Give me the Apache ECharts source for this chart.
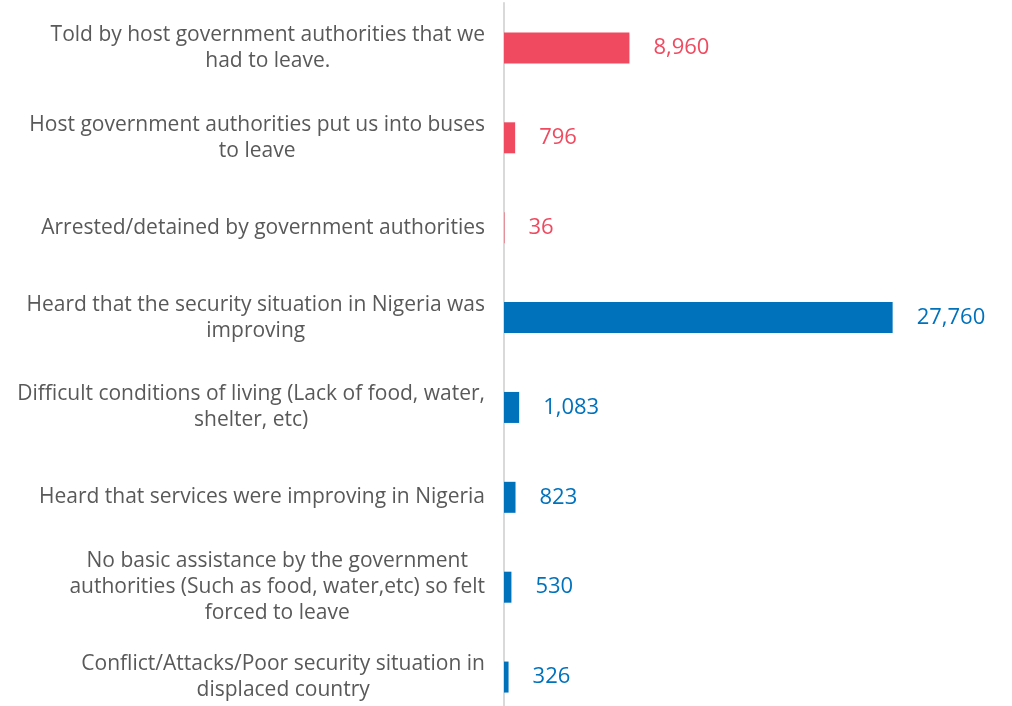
<!DOCTYPE html>
<html>
<head>
<meta charset="utf-8">
<script src="https://cdn.jsdelivr.net/npm/echarts@6/dist/echarts.min.js"></script>
<style>
html,body{margin:0;padding:0;background:#fff;}
#chart{width:1012px;height:706px;}
</style>
</head>
<body>
<div id="chart"></div>
<script>
const categories = [
  "Told by host government authorities that we\nhad to leave.",
  "Host government authorities put us into buses\nto leave",
  "Arrested/detained by government authorities",
  "Heard that the security situation in Nigeria was\nimproving",
  "Difficult conditions of living (Lack of food, water,\nshelter, etc)",
  "Heard that services were improving in Nigeria",
  "No basic assistance by the government\nauthorities (Such as food, water,etc) so felt\nforced to leave",
  "Conflict/Attacks/Poor security situation in\ndisplaced country"
];
const values = [8960, 796, 36, 27760, 1083, 823, 530, 326];
const groups = ["red", "red", "red", "blue", "blue", "blue", "blue", "blue"];

const colorMap = { red: "#EF4A60", blue: "#0072BC" };

const chart = echarts.init(document.getElementById('chart'));
chart.setOption({
  animation: false,
  grid: { left: 504, right: 88, top: 3, height: 719, containLabel: false, outerBoundsMode: 'none' },
  xAxis: {
    type: 'value', min: 0, max: 30000,
    show: false,
    splitLine: { show: false }
  },
  yAxis: {
    type: 'category', inverse: true, data: categories,
    axisLine: { show: true, lineStyle: { color: '#D9D9D9', width: 2 } },
    axisTick: { show: false },
    axisLabel: {
      margin: 19,
      align: 'right',
      formatter: function (v) {
        return v.split('\n').map(function (l) { return '{c|' + l + '}'; }).join('\n');
      },
      rich: {
        c: {
          align: 'center',
          fontFamily: '"Open Sans", Lato, sans-serif',
          fontSize: 21,
          lineHeight: 26,
          color: '#595959'
        }
      }
    }
  },
  series: [{
    type: 'bar',
    barWidth: 31,
    data: values.map(function (v, i) {
      return {
        value: v,
        itemStyle: { color: colorMap[groups[i]] },
        label: { color: colorMap[groups[i]] }
      };
    }),
    label: {
      show: true,
      position: 'right',
      distance: 24,
      fontFamily: '"Open Sans", Lato, sans-serif',
      fontSize: 22,
      formatter: function (p) { return p.value.toLocaleString('en-US'); }
    }
  }]
});
</script>
</body>
</html>
